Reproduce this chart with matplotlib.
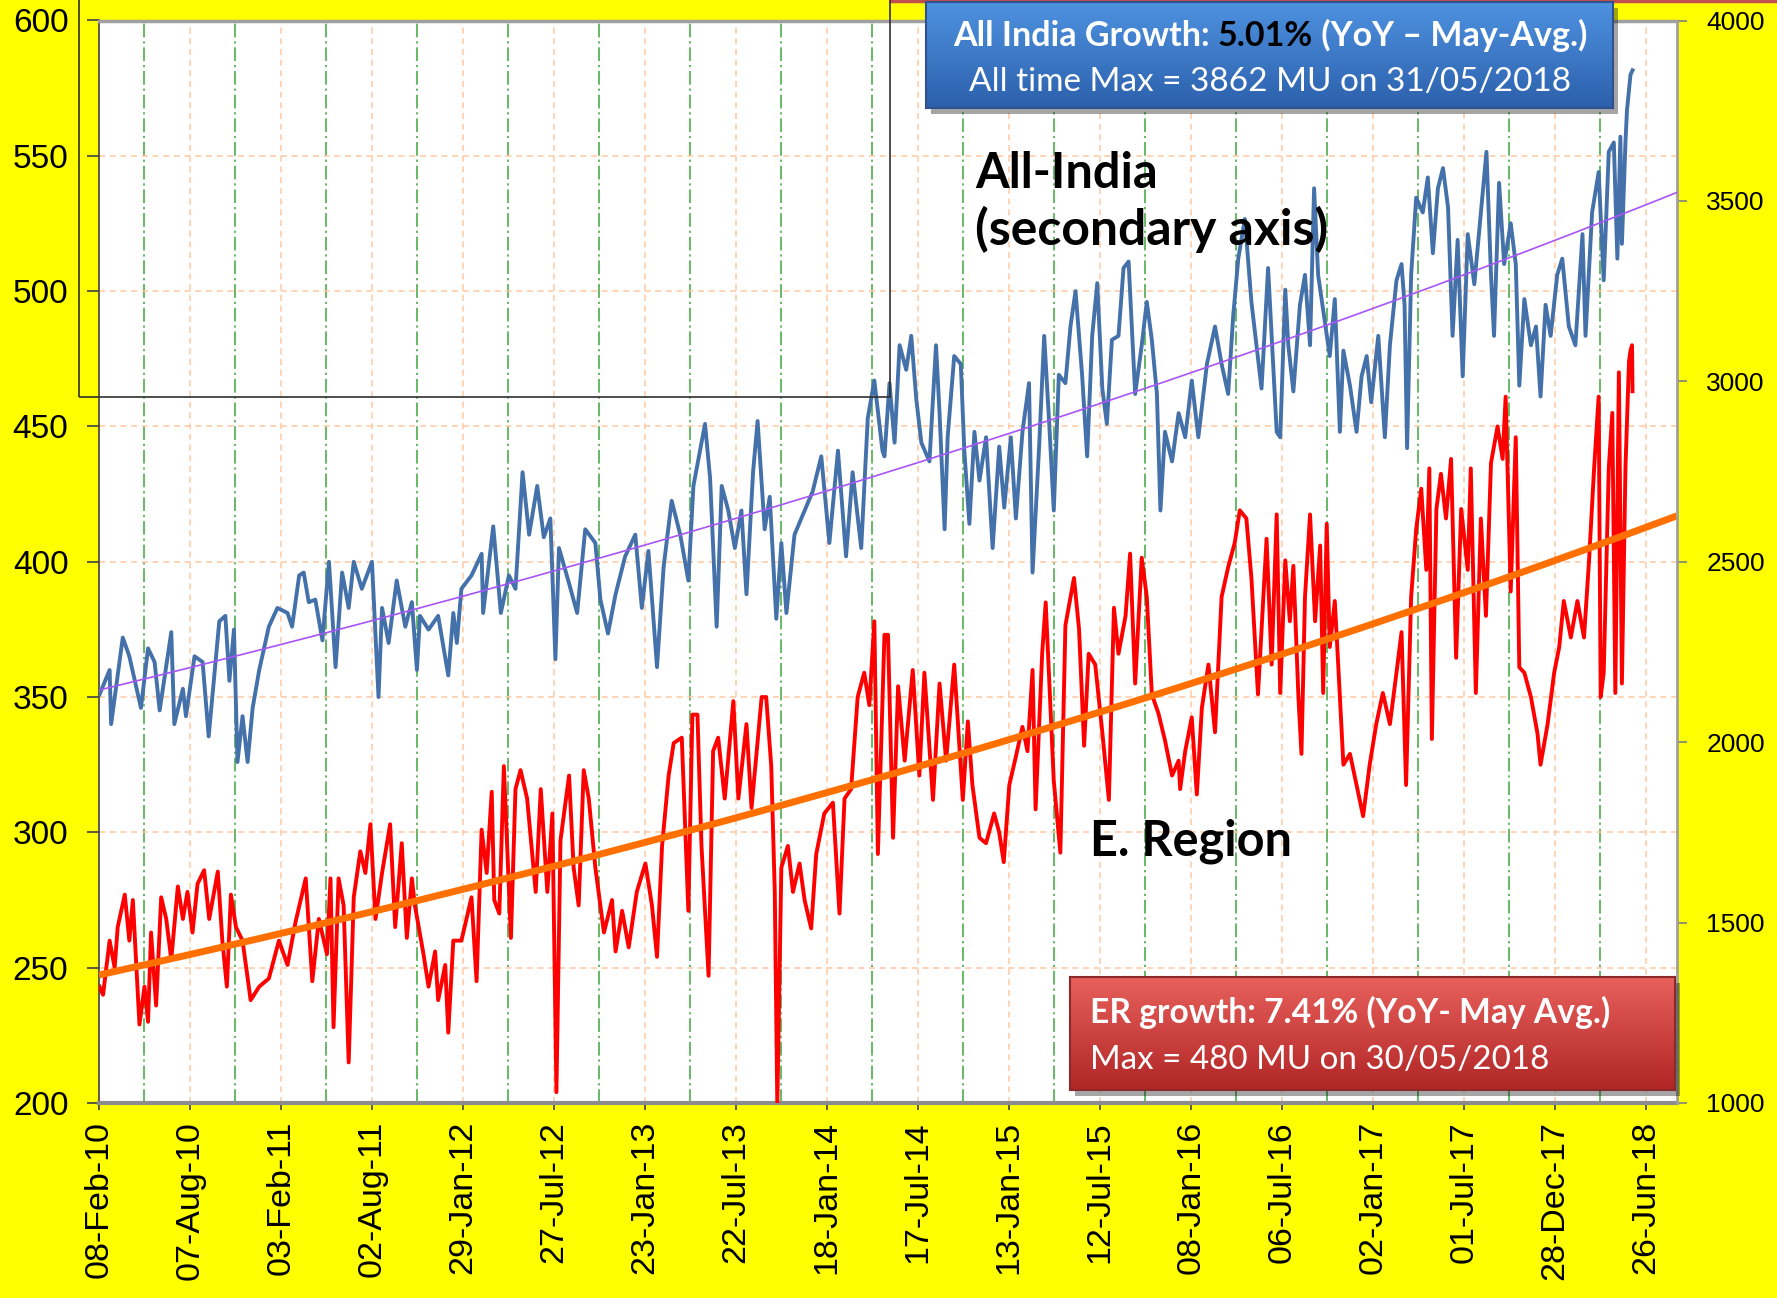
import numpy as np
import pandas as pd
import matplotlib
matplotlib.use('Agg')
import matplotlib.pyplot as plt
import matplotlib.dates as mdates
from matplotlib.patches import Rectangle
from matplotlib.lines import Line2D

# Daily energy met (days counted from 08-Feb-2010)
start = pd.Timestamp('2010-02-08')

# All-India (MU, secondary axis)
india_day = [1, 21, 24, 47, 60, 83, 97, 110, 120, 143, 149, 166, 172, 189, 205, 217, 238, 250, 258, 267,
             274, 284, 294, 304, 317, 336, 353, 373, 382, 396, 405, 415, 428, 442, 455, 468, 481, 494, 504, 520,
             540, 553, 560, 573, 589, 606, 619, 629, 635, 652, 671, 691, 701, 708, 717, 737, 757, 760, 780,
             795, 811, 824, 838, 851, 867, 880, 893, 903, 910, 930, 946, 962, 982, 992, 1007, 1022, 1041, 1061,
             1074, 1087, 1104, 1117, 1133, 1150, 1166, 1176, 1199, 1209, 1222, 1232, 1245, 1258, 1271, 1281,
             1294, 1303, 1317, 1327, 1340, 1350, 1360, 1376, 1396, 1412, 1429, 1445, 1462, 1478, 1491, 1508,
             1521, 1534, 1550,
             1554, 1564, 1574, 1584, 1597, 1607, 1617, 1627, 1643, 1656, 1663, 1673, 1679, 1692, 1705, 1712,
             1722, 1732, 1742, 1755, 1768, 1781, 1791, 1804, 1814, 1827, 1840, 1847, 1860, 1870, 1880, 1889,
             1899, 1912, 1922, 1932, 1945, 1955, 1965, 1975, 1985, 1994, 2004, 2017, 2027, 2037, 2050, 2063,
             2073, 2083, 2093, 2100, 2109, 2123, 2136, 2149, 2162, 2175, 2192, 2208, 2221, 2234, 2244, 2254,
             2267, 2280, 2300, 2313, 2330,
             2337, 2347, 2353, 2363, 2376, 2386, 2396, 2404, 2412, 2425, 2435, 2445, 2455, 2462, 2475, 2488,
             2498, 2508, 2517, 2531, 2544, 2554, 2567, 2577, 2583, 2588, 2596, 2606, 2619, 2629, 2639, 2649,
             2659, 2669, 2678, 2688, 2698, 2708, 2721, 2734, 2745, 2754, 2760, 2770, 2780, 2793, 2803, 2810,
             2820, 2833, 2843, 2852, 2862, 2872, 2885, 2895, 2908, 2921, 2935, 2941, 2954, 2967, 2977, 2987,
             2997, 3004, 3010, 3013, 3020, 3023, 3030, 3034]
india_mu = [2132, 2200, 2050, 2290, 2238, 2095, 2260, 2222, 2088, 2305, 2050, 2148, 2072, 2238, 2222, 2016, 2335,
            2350, 2170, 2312, 1945, 2072, 1945, 2095, 2200, 2320, 2372, 2358, 2320, 2462, 2470, 2388, 2395, 2282,
            2500, 2208, 2470, 2372, 2500, 2425, 2500, 2125, 2372, 2275, 2448, 2320, 2388, 2200, 2350, 2312, 2350,
            2185, 2358, 2275, 2425, 2462, 2522, 2358, 2598,
            2358, 2462, 2425, 2748, 2575, 2710, 2568, 2620, 2230, 2538, 2440, 2358, 2590, 2552, 2395, 2301, 2410,
            2515, 2575, 2372, 2530, 2208, 2485, 2669, 2575, 2448, 2710, 2882, 2732, 2320, 2710, 2642, 2538, 2642,
            2410, 2748, 2890, 2590, 2680, 2342, 2552, 2358, 2575, 2642, 2695, 2792, 2552, 2808, 2515, 2748, 2538,
            2898, 3002, 2808,
            2792, 2995, 2830, 3100, 3032, 3126, 2950, 2830, 2778, 3100, 2912, 2590, 2845, 3070, 3048, 2808, 2605,
            2860, 2725, 2845, 2538, 2819, 2650, 2845, 2620, 2860, 2995, 2470, 2819, 3126, 2882, 2642, 3018, 2995,
            3152, 3250, 3018, 2792, 3126, 3272, 2980, 2882, 3115, 3126, 3314, 3332, 2965, 3100, 3220, 3115, 2965,
            2642, 2860, 2778, 2912, 2845, 3002, 2845, 3048, 3152, 3048, 2965, 3182, 3340, 3450, 3220, 2980, 3314,
            2860,
            2845, 3254, 3100, 2972, 3212, 3295, 3100, 3535, 3295, 3168, 3070, 3228, 2860, 3085, 2988, 2860, 3014,
            3070, 2942, 3126, 2845, 3100, 3280, 3325, 3212, 2815, 3295, 3509, 3468, 3565, 3355, 3535, 3591, 3482,
            3126, 3392, 3014, 3408, 3269, 3468, 3636, 3295, 3126, 3550, 3325, 3438, 3325, 2988, 3228, 3100, 3152,
            2958, 3212, 3126, 3295, 3340, 3152, 3100, 3408, 3126, 3468, 3580, 3280, 3636, 3662, 3340, 3678, 3381,
            3662, 3750, 3850, 3862]

# Eastern Region (MU, primary axis)
er_day = [1, 8, 21, 31, 37, 51, 60, 67, 80, 90, 97, 103, 113, 123, 133, 143, 156, 166, 175, 185, 195, 208, 218,
          235, 244, 253, 261, 271, 284, 300, 317, 336, 356, 373, 389, 409, 422, 435, 451, 458, 464, 474, 484, 494,
          504, 517, 527, 537, 547, 560, 576, 586, 599, 609, 619, 625, 642, 652, 665, 671, 685, 691, 701, 717, 737,
          747, 757, 767, 777,
          782, 792, 801, 815, 824, 834, 847, 864, 874, 887, 897, 905, 913, 930, 939, 949, 959, 969, 982, 999,
          1015, 1022, 1035, 1048, 1064, 1081, 1094, 1104, 1114, 1127, 1137, 1153, 1166, 1174, 1184, 1192, 1206,
          1215, 1225, 1238, 1255, 1265, 1281, 1291, 1311, 1320, 1330, 1337, 1342, 1350, 1363, 1373, 1386, 1396,
          1409, 1419, 1435, 1452, 1465, 1475, 1488, 1501, 1514, 1524, 1534, 1541, 1554,
          1561, 1571, 1581, 1594, 1610, 1623, 1633, 1650, 1663, 1676, 1692, 1709, 1719, 1728, 1742, 1755, 1771,
          1781, 1790, 1801, 1814, 1827, 1837, 1847, 1853, 1866, 1873, 1883, 1889, 1902, 1912, 1929, 1939, 1949,
          1958, 1971, 1985, 1998, 2008, 2017, 2031, 2040, 2050, 2063, 2073, 2083, 2096, 2109, 2123, 2136, 2139,
          2149, 2162, 2172, 2182, 2195, 2208, 2221, 2234, 2247, 2257, 2270, 2280, 2293, 2310, 2320, 2330,
          2337, 2347, 2356, 2363, 2373, 2379, 2386, 2396, 2406, 2416, 2422, 2429, 2435, 2445, 2452, 2462, 2475,
          2488, 2501, 2514, 2527, 2540, 2554, 2567, 2577, 2586, 2596, 2606, 2616, 2626, 2632, 2637, 2646, 2655,
          2665, 2675, 2685, 2695, 2708, 2714, 2724, 2734, 2744, 2754, 2767, 2777, 2783, 2793, 2803, 2810, 2820,
          2833, 2846, 2852, 2866, 2879, 2889, 2898, 2912, 2925, 2938, 2948, 2958, 2967, 2971, 2977, 2987, 2994,
          3000, 3007, 3013, 3020, 3027, 3030, 3033, 3034]
er_mu = [243, 240, 260, 250, 265, 277, 260, 275, 229, 243, 230, 263, 236, 276, 268, 253, 280, 268, 278, 263, 281,
         286, 268, 285.5, 260, 243, 277, 265, 260, 238, 243, 246, 260, 251, 267, 283, 245, 268, 255, 283, 228, 283,
         273, 215, 276, 293, 285, 303, 268, 285, 303, 265, 296, 261, 283, 273, 255, 243, 256, 238, 251, 226, 260,
         260, 276, 245, 301, 285, 315,
         275, 270, 324.5, 261, 316, 323, 312.5, 278, 316, 278, 307, 204, 297, 321, 287, 273, 323, 312.5, 287, 263,
         275, 256, 271, 257.5, 278, 288.5, 273, 254, 295, 321, 333, 335, 271, 343.5, 343.5, 295, 247, 330, 335,
         312.5, 348.5, 312.5, 340, 309, 350, 350, 324.5, 278, 199, 287, 295, 278, 288.5, 275, 264.5, 292, 307, 311,
         270, 312.5, 316, 350, 359, 347, 378, 292, 373,
         373, 298, 354, 326.5, 360, 321, 359, 312, 355, 326.5, 362, 312, 341, 317.5, 298, 296, 307, 300, 289,
         317.5, 328, 339, 330, 360, 308.5, 366, 385, 344, 319, 292.5, 376.5, 394, 375, 332, 366, 362, 337, 312,
         383, 366, 380, 403, 355, 401.5, 387, 351, 344, 334, 321, 326.5, 316, 330, 342.5, 314, 346, 362, 337, 387,
         398, 407, 419, 416, 394, 351, 408.5, 362, 417.5,
         351.5, 400.5, 378, 398.5, 350, 329, 387, 417.5, 378, 406, 351.5, 414, 368.5, 385.5, 361, 325, 329, 317.5,
         306, 325, 340, 351.5, 340, 359, 374, 317.5, 387, 412, 427, 397, 434.5, 334.5, 419.5, 432.5, 416, 438,
         364.5, 419.5, 397, 434.5, 351.5, 416, 380, 436.5, 450, 438, 461, 389, 446, 361, 359, 350, 336.5, 325, 340,
         359, 368.5, 385.5, 372, 385.5, 372, 400.5, 434.5, 461, 350, 359, 434.5, 455, 351.5, 470, 355, 434.5, 474,
         478, 480, 463]

assert len(india_day) == len(india_mu)
assert len(er_day) == len(er_mu)

india_dates = start + pd.to_timedelta(india_day, unit='D')
er_dates = start + pd.to_timedelta(er_day, unit='D')

# exponential trend lines (same as the spreadsheet "exponential" trend)
trend_days = np.arange(0, 3123)
trend_dates = start + pd.to_timedelta(trend_days, unit='D')
bi = np.polyfit(india_day, np.log(india_mu), 1)
be = np.polyfit(er_day, np.log(er_mu), 1)
india_trend = np.exp(np.polyval(bi, trend_days))
er_trend = np.exp(np.polyval(be, trend_days))

W, H = 1777, 1298
fig = plt.figure(figsize=(W / 100, H / 100), dpi=100, facecolor='#FFFF00')
rend = fig.canvas.get_renderer()

ax = fig.add_axes([99 / W, 1 - 1103 / H, (1677 - 99) / W, (1103 - 20.5) / H], zorder=1)
ax.set_facecolor('white')
ax2 = ax.twinx()
ax2.set_zorder(2)

ax.plot(er_dates, er_mu, color='#FF0000', lw=2.8, zorder=3)
ax.plot(trend_dates, er_trend, color='#FF7000', lw=5, zorder=4, solid_capstyle='butt')
ax2.plot(india_dates, india_mu, color='#4471A9', lw=2.8, zorder=3)
ax2.plot(trend_dates, india_trend, color='#A855F7', lw=1.2, zorder=4)

ax.set_xlim(start, start + pd.Timedelta(days=3122))
ax.set_ylim(200, 600)
ax2.set_ylim(1000, 4000)
ax.set_yticks(np.arange(200, 601, 50))
ax2.set_yticks(np.arange(1000, 4001, 500))

major = pd.date_range(start, periods=18, freq='180D')
minor = pd.date_range(start + pd.Timedelta(days=90), periods=17, freq='180D')
ax.set_xticks(major)
ax.set_xticks(minor, minor=True)
ax.xaxis.set_major_formatter(mdates.DateFormatter('%d-%b-%y'))

ax.grid(which='major', axis='both', color='#FFC9A3', ls=(0, (4, 3)), lw=1.1)
ax.grid(which='minor', axis='x', color='#3DA53D', ls=(0, (9, 2.5, 1.5, 2.5)), lw=1.1)

tick_font = 'Liberation Sans'
ax.tick_params(axis='y', which='major', labelsize=24, length=9, width=1.2, pad=13, color='#404040')
ax.tick_params(axis='x', which='major', labelsize=24.5, length=5, width=1.2, pad=8, color='#404040',
               labelrotation=90)
ax.tick_params(axis='x', which='minor', length=0)
ax2.tick_params(axis='y', labelsize=19, length=7, width=1.2, pad=14, color='#808080')
for lab in ax.get_xticklabels() + ax.get_yticklabels() + ax2.get_yticklabels():
    lab.set_family(tick_font)

ax.spines['left'].set_color('#404040')
ax.spines['left'].set_linewidth(1.2)
ax.spines['bottom'].set_color('#8C8C8C')
ax.spines['bottom'].set_linewidth(3)
ax.spines['top'].set_color('#A0A0A0')
ax.spines['top'].set_linewidth(2.5)
ax.spines['right'].set_visible(False)
for s in ['left', 'bottom', 'top']:
    ax2.spines[s].set_visible(False)
ax2.spines['right'].set_color('#A0A0A0')
ax2.spines['right'].set_linewidth(2)

# slide leftovers: thin outline box and a line along the top
fig.patches.append(Rectangle((79 / W, 1 - 397 / H), (890 - 79) / W, 400 / H, transform=fig.transFigure,
                             fill=False, ec='#303030', lw=1.2, zorder=3))
fig.lines.append(Line2D([891 / W, 1], [1 - 1 / H, 1 - 1 / H], transform=fig.transFigure,
                        color='#C0504D', lw=2.5, zorder=3))


def px_text(x, y, s, target_w=None, **kw):
    t = fig.text(x / W, 1 - y / H, s, **kw)
    if target_w:
        w = t.get_window_extent(rend).width
        t.set_fontsize(t.get_fontsize() * target_w / w)
    return t


def gradient_box(x0, y0, x1, y1, top, bottom, edge):
    fig.patches.append(Rectangle(((x0 + 5) / W, 1 - (y1 + 6) / H), (x1 - x0) / W, (y1 - y0) / H,
                                 transform=fig.transFigure, fc='#000000', alpha=0.35, lw=0, zorder=4))
    bx = fig.add_axes([x0 / W, 1 - y1 / H, (x1 - x0) / W, (y1 - y0) / H], zorder=5)
    g = np.linspace(0, 1, 100)[:, None, None]
    c = np.array(top)[None, None, :] * (1 - g) + np.array(bottom)[None, None, :] * g
    bx.imshow(c / 255.0, aspect='auto', extent=[0, 1, 0, 1])
    bx.set_xticks([])
    bx.set_yticks([])
    for sp in bx.spines.values():
        sp.set_color(edge)
        sp.set_linewidth(1.5)


def rich_line(pieces, xc, y, target_w, size=22, family='Lato', weight='bold'):
    full = ''.join(p for p, _ in pieces)
    probe = fig.text(0, 0, full, fontsize=size, family=family, fontweight=weight)
    size = size * target_w / probe.get_window_extent(rend).width
    probe.set_fontsize(size)
    total = probe.get_window_extent(rend).width
    bar = fig.text(0, 0, '|', fontsize=size, family=family, fontweight=weight)
    wbar = bar.get_window_extent(rend).width
    x = xc - total / 2
    prefix = ''
    for s, col in pieces:
        probe.set_text(prefix + '|')
        off = probe.get_window_extent(rend).width - wbar if prefix else 0
        fig.text((x + off) / W, 1 - y / H, s, fontsize=size, family=family, fontweight=weight,
                 color=col, va='baseline', ha='left', zorder=6)
        prefix += s
    probe.remove()
    bar.remove()


# All-India box
gradient_box(926, 2, 1613, 108, (78, 146, 224), (44, 96, 172), '#2F528F')
rich_line([('All India Growth: ', 'white'), ('5.01%', 'black'), (' (YoY \u2013 May-Avg.)', 'white')],
          1270, 46, 632)
px_text(1270, 91, 'All time Max = 3862 MU on 31/05/2018', 601, ha='center', va='baseline',
        color='white', family='Lato', fontsize=22, zorder=6)

# ER box
gradient_box(1070, 977, 1675, 1090, (232, 96, 92), (176, 38, 38), '#8B2A2A')
px_text(1090, 1023, 'ER growth: 7.41% (YoY- May Avg.)', 519, ha='left', va='baseline',
        color='white', family='Lato', fontweight='bold', fontsize=22, zorder=6)
px_text(1090, 1069, 'Max = 480 MU on 30/05/2018', 457, ha='left', va='baseline',
        color='white', family='Lato', fontsize=22, zorder=6)

# series labels
px_text(975, 188, 'All-India', 183, ha='left', va='baseline', color='black', family='Lato',
        fontweight='bold', fontsize=34, zorder=6)
px_text(975, 245, '(secondary axis)', 354, ha='left', va='baseline', color='black', family='Lato',
        fontweight='bold', fontsize=34, zorder=6)
px_text(1090, 856, 'E. Region', 202, ha='left', va='baseline', color='black', family='Lato',
        fontweight='bold', fontsize=34, zorder=6)

fig.savefig('out.png', dpi=100, facecolor=fig.get_facecolor())
